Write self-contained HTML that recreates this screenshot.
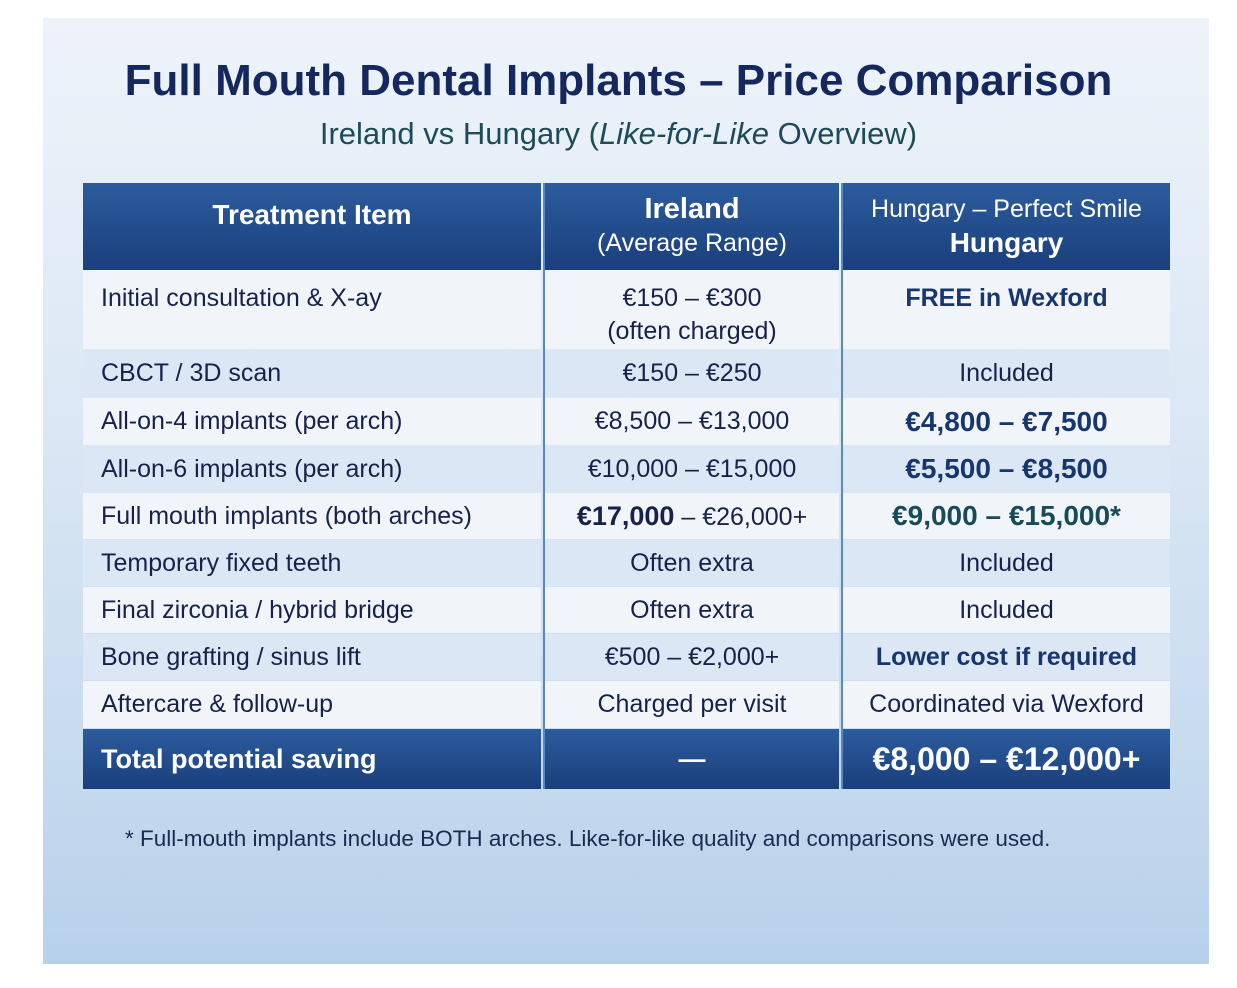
<!DOCTYPE html>
<html><head><meta charset="utf-8"><style>
*{margin:0;padding:0;box-sizing:border-box}
body{width:1237px;height:988px;background:#fff;position:relative;overflow:hidden;font-family:"Liberation Sans",sans-serif;color:#16224a}
#panel{position:absolute;left:43px;top:18px;width:1166px;height:946px;background:linear-gradient(180deg,#eef3fa 0%,#dce8f5 40%,#c9dcef 75%,#b7d0ea 100%)}
.t{position:absolute;left:0;width:1237px;text-align:center}
.cell{position:absolute;display:flex;align-items:center;font-size:25px;white-space:nowrap}
.c{justify-content:center;text-align:center}
.hd{background:linear-gradient(180deg,#2c5c9e,#1a3f7c);color:#fff}
.b{font-weight:bold}
</style></head><body>
<div id="panel"></div>
<div class="t" style="top:56px;font-size:44px;font-weight:bold;color:#15285e">Full Mouth Dental Implants – Price Comparison</div>
<div class="t" style="top:116px;font-size:31px;color:#1e4a5a">Ireland vs Hungary (<i>Like-for-Like</i> Overview)</div>
<div id="tbl"></div>
<script>
const L=83,X1=543,X2=841,R=1170;
const rows=[[270,350],[350,398],[398,446],[446,493],[493,540],[540,587],[587,634],[634,681],[681,729]];
const data=[
["Initial consultation &amp; X-ay","€150 – €300<br>(often charged)","<b style='color:#17366e'>FREE in Wexford</b>"],
["CBCT / 3D scan","€150 – €250","Included"],
["All-on-4 implants (per arch)","€8,500 – €13,000","<b style='color:#17366e;font-size:28px'>€4,800 – €7,500</b>"],
["All-on-6 implants (per arch)","€10,000 – €15,000","<b style='color:#17366e;font-size:28px'>€5,500 – €8,500</b>"],
["Full mouth implants (both arches)","<span><b style='font-size:27px'>€17,000</b> – €26,000+</span>","<b style='color:#184a5a;font-size:28px'>€9,000 – €15,000*</b>"],
["Temporary fixed teeth","Often extra","Included"],
["Final zirconia / hybrid bridge","Often extra","Included"],
["Bone grafting / sinus lift","€500 – €2,000+","<b style='color:#17366e'>Lower cost if required</b>"],
["Aftercare &amp; follow-up","Charged per visit","Coordinated via Wexford"]];
let h='';
function cell(x,y,w,hh,cls,st,html){h+=`<div class="cell ${cls}" style="left:${x}px;top:${y}px;width:${w}px;height:${hh}px;${st}">${html}</div>`;}
cell(L,183,X1-L-2,87,'c hd','font-size:28px;align-items:flex-start;padding-top:16px','<b>Treatment Item</b>');
cell(X1+2,183,X2-X1-4,87,'c hd','font-size:25px;line-height:33px','<div><b style="font-size:29px">Ireland</b><br>(Average Range)</div>');
cell(X2+2,183,R-X2-2,87,'c hd','font-size:25px;line-height:33px','<div>Hungary – Perfect Smile<br><b style="font-size:28px">Hungary</b></div>');
rows.forEach((r,i)=>{const bg=i%2?'#dbe7f4':'#f1f5fa';const hh=r[1]-r[0]-1;const d=data[i];
const al=i==0?'align-items:flex-start;padding-top:12px;line-height:33px;':'';
cell(L,r[0],X1-L-2,hh,'',`background:${bg};padding-left:18px;${al}`,d[0]);
cell(X1+2,r[0],X2-X1-4,hh,'c',`background:${bg};${al}`,'<div>'+d[1]+'</div>');
cell(X2+2,r[0],R-X2-2,hh,'c',`background:${bg};${al}`,d[2]);});
cell(L,729,X1-L-2,60,'hd','padding-left:18px;font-size:27px','<b>Total potential saving</b>');
cell(X1+2,729,X2-X1-4,60,'c hd','font-size:27px','<b>—</b>');
cell(X2+2,729,R-X2-2,60,'c hd','font-size:32px','<b>€8,000 – €12,000+</b>');
h+=`<div style="position:absolute;left:${X1}px;top:183px;width:2px;height:606px;background:#5b88c4"></div><div style="position:absolute;left:${X2}px;top:183px;width:2px;height:606px;background:#5b88c4"></div>`;
document.getElementById('tbl').innerHTML=h;
</script>
<div style="position:absolute;left:125px;top:826px;font-size:22.5px;color:#1c2a50">* Full-mouth implants include BOTH arches. Like-for-like quality and comparisons were used.</div>
</body></html>
